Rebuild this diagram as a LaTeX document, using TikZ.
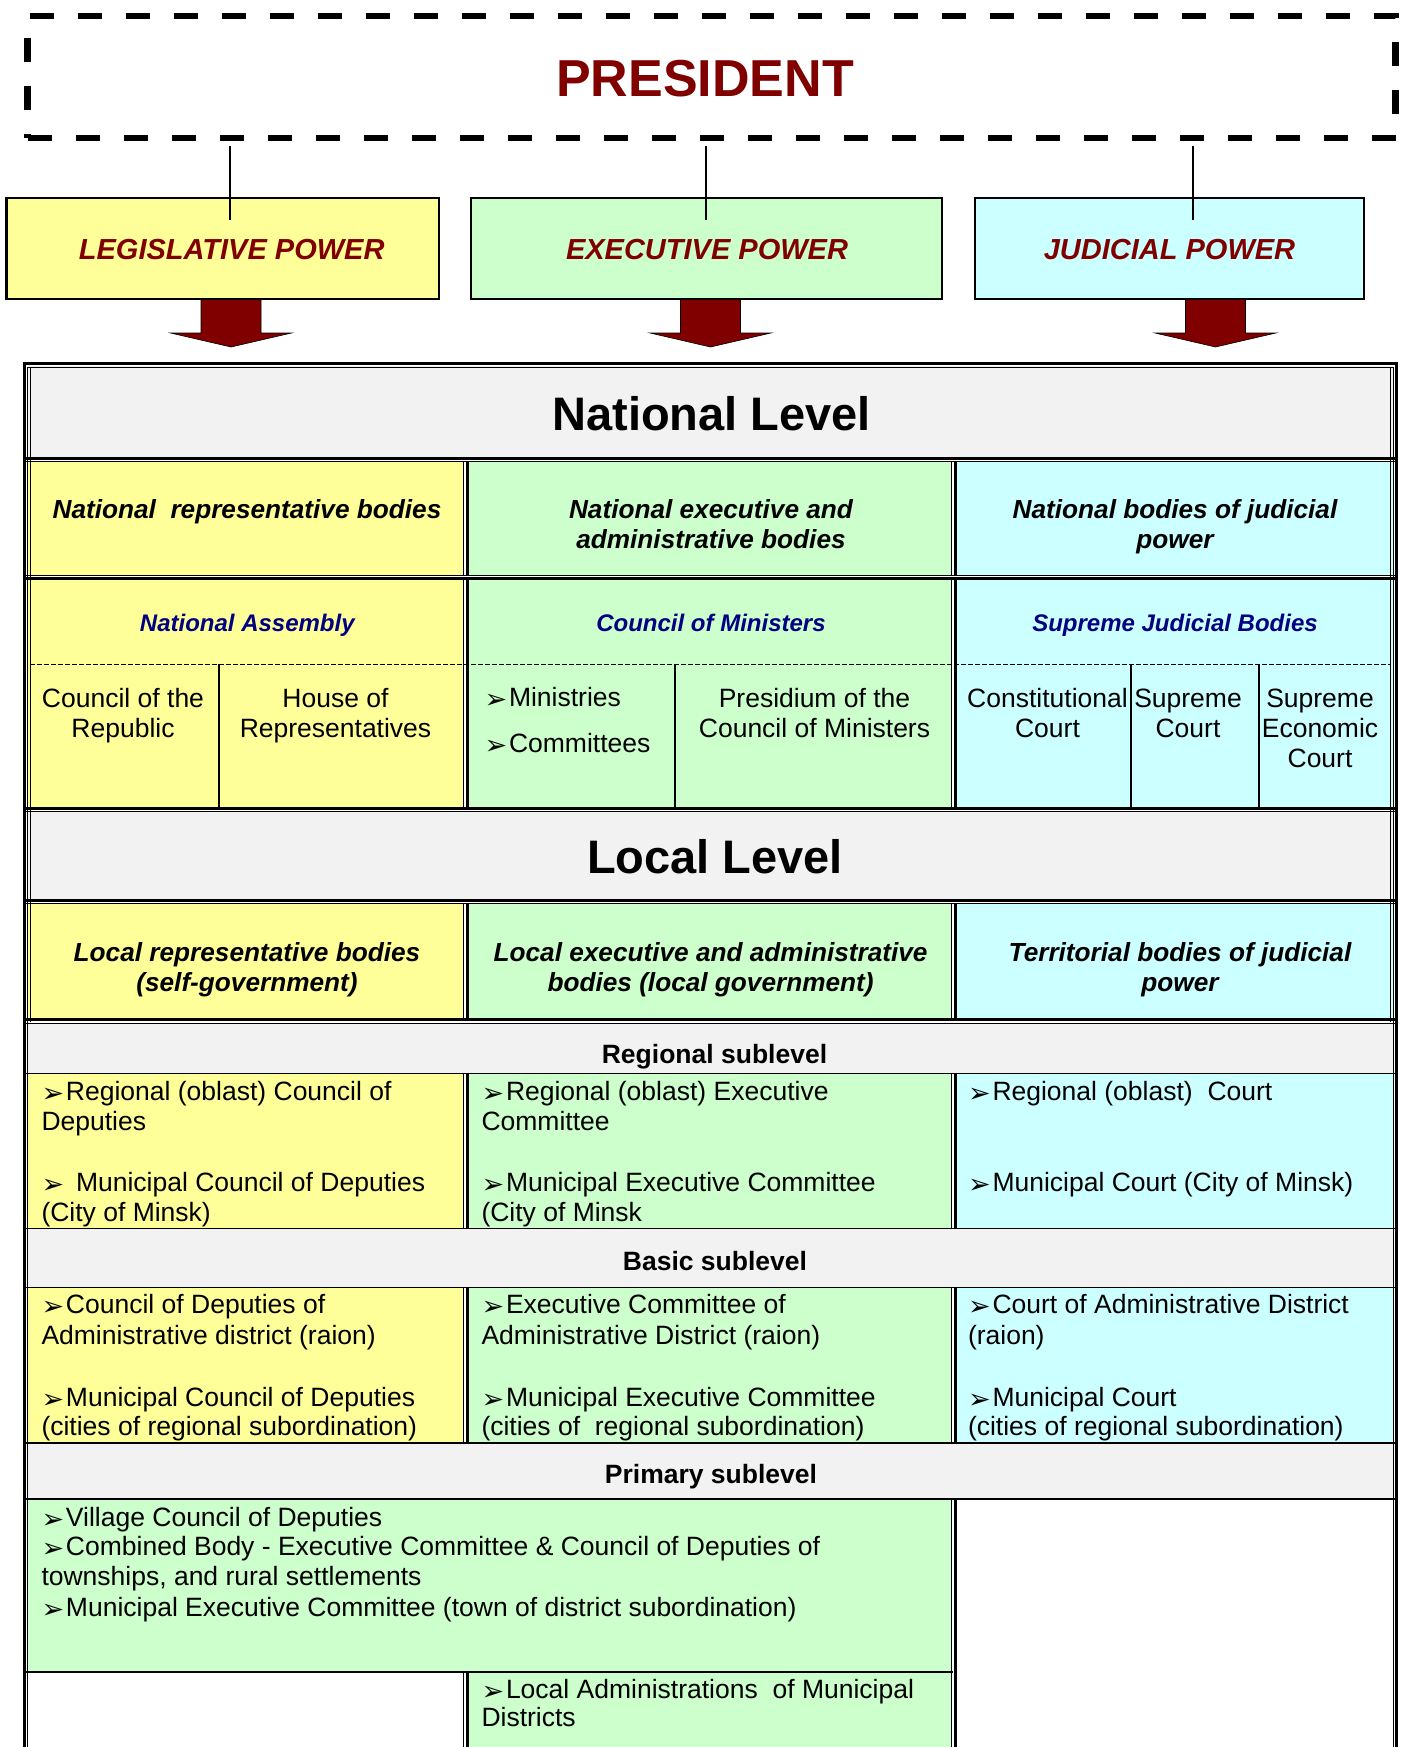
\documentclass[tikz,border=0pt]{standalone}
\usepackage{fontspec}
\setmainfont{Liberation Sans}
\newfontfamily\dejavu{DejaVu Sans}
\definecolor{yel}{HTML}{FFFF99}
\definecolor{grn}{HTML}{CCFFCC}
\definecolor{cyn}{HTML}{CCFFFF}
\definecolor{gry}{HTML}{F2F2F2}
\definecolor{dred}{HTML}{800000}
\definecolor{navy}{HTML}{000080}
\newcommand\blt{\makebox[24.5pt][l]{\raisebox{-2pt}{\dejavu\fontsize{27}{27}\selectfont ➢}}}
\newcommand\bltw{\makebox[34.5pt][l]{\raisebox{-2pt}{\dejavu\fontsize{27}{27}\selectfont ➢}}}
% vertical divider: thin, white gap, thick (x = thick centre)
\newcommand\myvdiv[3]{%
  \draw[line width=1pt] (#1-3.6,#2) -- (#1-3.6,#3);
  \draw[white,line width=1.6pt] (#1-2.3,#2) -- (#1-2.3,#3);
  \draw[line width=3pt] (#1,#2) -- (#1,#3);}
% horizontal divider: thick, white gap, thin below
\newcommand\myhdivA[3]{%
  \draw[line width=3pt] (#2,#1) -- (#3,#1);
  \draw[white,line width=1.6pt] (#2,#1+2.3) -- (#3,#1+2.3);
  \draw[line width=1pt] (#2,#1+3.6) -- (#3,#1+3.6);}
% horizontal divider: thin above, white gap, thick
\newcommand\myhdivB[3]{%
  \draw[line width=1pt] (#2,#1-3.6) -- (#3,#1-3.6);
  \draw[white,line width=1.6pt] (#2,#1-2.3) -- (#3,#1-2.3);
  \draw[line width=3pt] (#2,#1) -- (#3,#1);}
\tikzset{
  barrow/.pic={
    \filldraw[fill=dred, draw=black, line width=0.6pt, line join=miter]
      (-30,0) -- (-30,35) -- (-60.5,35) -- (0,49) -- (60.5,35) -- (30,35) -- (30,0) -- cycle;
  }
}
\begin{document}
\begin{tikzpicture}[x=1pt,y=-1pt,
  every node/.style={inner sep=0pt, outer sep=0pt},
  presbox/.style={draw=black, line width=6.3pt, dash pattern=on 24pt off 24pt},
  prestxt/.style={font=\fontsize{52}{52}\selectfont\bfseries, text=dred, anchor=base},
  powbox/.style={draw=black, line width=2.2pt},
  powtxt/.style={font=\fontsize{29}{29}\selectfont\bfseries\itshape, text=dred, anchor=base},
  lvltxt/.style={font=\fontsize{47}{47}\selectfont\bfseries, anchor=base},
  cattxt/.style={font=\fontsize{26.2}{26.2}\selectfont\bfseries\itshape, anchor=base},
  bluetxt/.style={font=\fontsize{24}{24}\selectfont\bfseries\itshape, text=navy, anchor=base},
  bodytxt/.style={font=\fontsize{26.5}{26.5}\selectfont, anchor=base},
  itemtxt/.style={font=\fontsize{26.5}{26.5}\selectfont, anchor=base west},
  subtxt/.style={font=\fontsize{26.5}{26.5}\selectfont\bfseries, anchor=base},
  conn/.style={line width=1.2pt},
]
\useasboundingbox (0,0) rectangle (1400,1747);
\clip (0,0) rectangle (1400,1747);
\fill[white] (0,0) rectangle (1400,1747);

% ---------------- top part ----------------
\node[presbox, minimum width=1368pt, minimum height=122pt] (pres) at (711.5,77.3) {};
\node[prestxt] (prest) at (705,96.7) {PRESIDENT};

\pic at (231,298) {barrow};
\pic at (710.5,298) {barrow};
\pic at (1215.5,298) {barrow};

\node[powbox, fill=yel, minimum width=432.5pt, minimum height=100.8pt] (leg) at (222.7,248.5) {};
\node[powbox, fill=grn, minimum width=470.8pt, minimum height=100.8pt] (exe) at (706.5,248.5) {};
\node[powbox, fill=cyn, minimum width=388.8pt, minimum height=100.8pt] (jud) at (1169.5,248.5) {};

\coordinate (pl) at (230,146);  \coordinate (ql) at (230,220);
\coordinate (pe) at (706,146);  \coordinate (qe) at (706,220);
\coordinate (pj) at (1193,146); \coordinate (qj) at (1193,220);
\draw[conn] (pl) -- (ql);
\draw[conn] (pe) -- (qe);
\draw[conn] (pj) -- (qj);

\node[powtxt] (legt) at (231.7,259.3) {LEGISLATIVE POWER};
\node[powtxt] (exet) at (707,259.3) {EXECUTIVE POWER};
\node[powtxt] (judt) at (1169.5,259.3) {JUDICIAL POWER};

% ---------------- table fills ----------------
\fill[gry] (28,366) rectangle (1393,458);
\fill[yel] (28,458) rectangle (465,808);
\fill[grn] (465,458) rectangle (953,808);
\fill[cyn] (953,458) rectangle (1393,808);
\fill[gry] (28,808) rectangle (1393,902);
\fill[yel] (28,902) rectangle (465,1020);
\fill[grn] (465,902) rectangle (953,1020);
\fill[cyn] (953,902) rectangle (1393,1020);
\fill[gry] (28,1020) rectangle (1393,1073);
\fill[yel] (28,1073) rectangle (465,1228);
\fill[grn] (465,1073) rectangle (953,1228);
\fill[cyn] (953,1073) rectangle (1393,1228);
\fill[gry] (28,1228) rectangle (1393,1287);
\fill[yel] (28,1287) rectangle (465,1443);
\fill[grn] (465,1287) rectangle (953,1443);
\fill[cyn] (953,1287) rectangle (1393,1443);
\fill[gry] (28,1443) rectangle (1393,1499);
\fill[grn] (28,1499) rectangle (953,1672);
\fill[grn] (465,1672) rectangle (953,1760);

% ---------------- table lines ----------------
\myvdiv{467.3}{458}{808}
\myvdiv{955.4}{458}{808}
\myvdiv{467.3}{900}{1020}
\myvdiv{955.4}{900}{1020}
\myvdiv{467.3}{1073}{1228}
\myvdiv{955.4}{1073}{1228}
\myvdiv{467.3}{1287}{1443}
\myvdiv{955.4}{1287}{1443}
\myvdiv{955.4}{1499}{1760}
\myvdiv{467.3}{1672}{1760}

\draw[line width=0.9pt, dash pattern=on 4.5pt off 2.5pt] (30,664) -- (1391,664);
\foreach \x in {219,675,1131,1259} \draw[line width=1.2pt] (\x,664) -- (\x,807);

\myhdivA{458}{24}{1397}
\myhdivB{578.6}{24}{1397}
\myhdivA{808}{24}{1397}
\myhdivA{900}{24}{1397}
\myhdivA{1019.5}{24}{1397}
\draw[line width=1pt] (24,1073) -- (1397,1073);
\draw[line width=1pt] (24,1228) -- (1397,1228);
\draw[line width=1pt] (24,1287) -- (1397,1287);
\draw[line width=1.2pt] (24,1443) -- (1397,1443);
\draw[line width=1.8pt] (24,1499) -- (1397,1499);
\draw[line width=1.5pt] (24,1672) -- (953,1672);

\draw[line width=3pt, line join=miter] (24.2,1760) -- (24.2,363.8) -- (1396.8,363.8) -- (1396.8,1760);
\draw[line width=1.2pt, line join=miter] (27.7,1760) -- (27.7,367.6) -- (1393.2,367.6) -- (1393.2,1760);
\draw[line width=1.2pt] (30.3,368) -- (30.3,1022);
\draw[line width=1.2pt] (1390.7,368) -- (1390.7,1022);

% ---------------- national level ----------------
\node[lvltxt] (nl) at (711.7,430) {National Level};
\node[cattxt] (ca) at (247,518.3) {National\ \ representative bodies};
\node[cattxt] (cb1) at (711,518.3) {National executive and};
\node[cattxt] (cb2) at (711,548.3) {administrative bodies};
\node[cattxt] (cc1) at (1175,518.3) {National bodies of judicial};
\node[cattxt] (cc2) at (1175,548.3) {power};

\node[bluetxt] (ba) at (247.3,631.7) {National Assembly};
\node[bluetxt] (bb) at (711,631.7) {Council of Ministers};
\node[bluetxt] (bc) at (1175,631.7) {Supreme Judicial Bodies};

\node[bodytxt] (n1) at (123,707.7) {Council of the};
\node[bodytxt] (n2) at (123,737.7) {Republic};
\node[bodytxt] (n3) at (335.5,707.7) {House of};
\node[bodytxt] (n4) at (335.5,737.7) {Representatives};
\node[itemtxt] (n5) at (484.5,706.7) {\blt Ministries};
\node[itemtxt] (n6) at (484.5,752) {\blt Committees};
\node[bodytxt] (n7) at (814.5,707.7) {Presidium of the};
\node[bodytxt] (n8) at (814.5,737.7) {Council of Ministers};
\node[bodytxt] (n9) at (1047.5,707.7) {Constitutional};
\node[bodytxt] (n10) at (1047.5,737.7) {Court};
\node[bodytxt] (n11) at (1188,707.7) {Supreme};
\node[bodytxt] (n12) at (1188,737.7) {Court};
\node[bodytxt] (n13) at (1320,707.7) {Supreme};
\node[bodytxt] (n14) at (1320,737.7) {Economic};
\node[bodytxt] (n15) at (1320,767.5) {Court};

% ---------------- local level ----------------
\node[lvltxt] (ll) at (715,873.3) {Local Level};
\node[cattxt] (la1) at (247,961.7) {Local representative bodies};
\node[cattxt] (la2) at (247,991.7) {(self-government)};
\node[cattxt] (lb1) at (710.6,961.7) {Local executive and administrative};
\node[cattxt] (lb2) at (710.6,991.7) {bodies (local government)};
\node[cattxt] (lc1) at (1180,961.7) {Territorial bodies of judicial};
\node[cattxt] (lc2) at (1180,991.7) {power};

\node[subtxt] (rs) at (714.5,1063.3) {Regional sublevel};
\node[itemtxt] (r1a) at (41.5,1100) {\blt Regional (oblast) Council of};
\node[itemtxt] (r1b) at (41.5,1130) {Deputies};
\node[itemtxt] (r1c) at (41.5,1191.5) {\bltw Municipal Council of Deputies};
\node[itemtxt] (r1d) at (41.5,1221) {(City of Minsk)};
\node[itemtxt] (r2a) at (481.5,1100) {\blt Regional (oblast) Executive};
\node[itemtxt] (r2b) at (481.5,1130) {Committee};
\node[itemtxt] (r2c) at (481.5,1191.5) {\blt Municipal Executive Committee};
\node[itemtxt] (r2d) at (481.5,1221) {(City of Minsk};
\node[itemtxt] (r3a) at (968,1100) {\blt Regional (oblast)\ \ Court};
\node[itemtxt] (r3c) at (968,1191.5) {\blt Municipal Court (City of Minsk)};

\node[subtxt] (bs) at (715,1270) {Basic sublevel};
\node[itemtxt] (b1a) at (41.5,1313) {\blt Council of Deputies of};
\node[itemtxt] (b1b) at (41.5,1344) {Administrative district (raion)};
\node[itemtxt] (b1c) at (41.5,1406) {\blt Municipal Council of Deputies};
\node[itemtxt] (b1d) at (41.5,1435) {(cities of regional subordination)};
\node[itemtxt] (b2a) at (481.5,1313) {\blt Executive Committee of};
\node[itemtxt] (b2b) at (481.5,1344) {Administrative District (raion)};
\node[itemtxt] (b2c) at (481.5,1406) {\blt Municipal Executive Committee};
\node[itemtxt] (b2d) at (481.5,1435) {(cities of\ \ regional subordination)};
\node[itemtxt] (b3a) at (968,1313) {\blt Court of Administrative District};
\node[itemtxt] (b3b) at (968,1344) {(raion)};
\node[itemtxt] (b3c) at (968,1406) {\blt Municipal Court};
\node[itemtxt] (b3d) at (968,1435) {(cities of regional subordination)};

\node[subtxt] (ps) at (711,1483.3) {Primary sublevel};
\node[itemtxt] (p1) at (41.5,1526) {\blt Village Council of Deputies};
\node[itemtxt] (p2) at (41.5,1555) {\blt Combined Body - Executive Committee \& Council of Deputies of};
\node[itemtxt] (p3) at (41.5,1585) {townships, and rural settlements};
\node[itemtxt] (p4) at (41.5,1616.7) {\blt Municipal Executive Committee (town of district subordination)};
\node[itemtxt] (q1) at (481.5,1698) {\blt Local Administrations\ \ of Municipal};
\node[itemtxt] (q2) at (481.5,1726.7) {Districts};
\end{tikzpicture}
\end{document}
